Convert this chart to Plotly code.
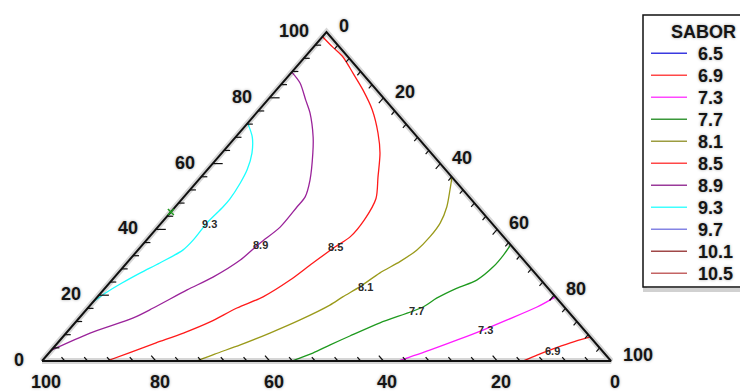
import numpy as np
import plotly.graph_objects as go

# ---------------- data (percent) ----------------
# T = top-vertex component (left axis), R = bottom-right component (right axis)
levels = ["6.5", "6.9", "7.3", "7.7", "8.1", "8.5", "8.9", "9.3", "9.7", "10.1", "10.5"]

c69_T = [7.3, 5.5, 3.3, 1.8, 0.0]
c69_R = [92.7, 90.1, 87.6, 86.1, 84.5]

c73_T = [19.5, 16.4, 12.5, 9.4, 6.4, 3.3, 0.0]
c73_R = [80.5, 78.8, 75.5, 72.8, 69.8, 66.5, 62.6]

c77_T = [35.3, 32.2, 28.7, 24.6, 22.1, 19.1, 16.5, 11.6, 7.6, 4.9, 2.4, 0.0]
c77_R = [64.7, 65.0, 65.0, 64.1, 61.8, 59.8, 58.8, 53.6, 50.3, 48.2, 46.4, 43.9]

c81_T = [55.9, 52.0, 46.9, 42.0, 37.8, 33.7, 30.2, 26.8, 22.6, 19.5, 17.0, 12.5, 8.5, 4.9, 2.1, 0.0]
c81_R = [44.1, 45.7, 47.7, 49.0, 49.3, 49.0, 47.8, 46.0, 44.6, 43.1, 42.1, 39.1, 35.8, 32.4, 29.3, 27.2]

c85_T = [98.5, 95.4, 92.4, 87.5, 82.4, 76.3, 69.3, 63.2, 55.9, 49.4, 42.9, 37.8, 34.7,
         29.8, 24.6, 19.5, 16.1, 11.9, 8.5, 5.5, 2.4, 0.0]
c85_R = [0.1, 3.4, 6.7, 10.9, 15.2, 19.9, 24.4, 27.8, 31.1, 34.0, 35.2, 35.3, 34.2,
         32.7, 31.3, 29.1, 26.2, 23.6, 20.6, 17.3, 14.0, 11.4]

c89_T = [87.8, 84.5, 79.3, 75.4, 68.1, 63.2, 55.0, 49.9, 46.8, 40.7, 35.9, 30.7, 25.5,
         21.6, 16.1, 13.1, 8.5, 3.3]
c89_R = [0.0, 3.1, 6.7, 9.4, 13.6, 16.0, 19.6, 21.3, 21.4, 21.5, 20.4, 19.5, 17.3,
         14.7, 11.5, 9.5, 4.2, 0.0]

c93_T = [72.3, 68.1, 63.2, 58.1, 54.1, 49.2, 46.8, 42.0, 36.8, 33.7, 29.8, 26.8, 23.7, 20.8, 18.0]
c93_R = [0.0, 2.9, 5.3, 7.0, 7.8, 8.4, 8.4, 8.0, 8.2, 7.9, 5.8, 3.9, 2.2, 0.9, 0.0]

contours = {
    "6.9": (c69_T, c69_R),
    "7.3": (c73_T, c73_R),
    "7.7": (c77_T, c77_R),
    "8.1": (c81_T, c81_R),
    "8.5": (c85_T, c85_R),
    "8.9": (c89_T, c89_R),
    "9.3": (c93_T, c93_R),
}

# contour label positions
label_text = ["9.3", "8.9", "8.5", "8.1", "7.7", "7.3", "6.9"]
label_T = [41.6, 35.3, 34.7, 22.6, 15.2, 9.4, 3.0]
label_R = [8.7, 20.7, 34.2, 45.5, 58.3, 73.2, 88.3]

# experimental point marker on left edge
point_T = [45.3]
point_R = [0.0]

tick_labels = [0, 20, 40, 60, 80, 100]
minor_step = 4

# ---------------- styles ----------------
plot_colors = {
    "6.5": "#2020ff", "6.9": "#ff1a1a", "7.3": "#ff1aff", "7.7": "#1f9a1f",
    "8.1": "#9a9a1a", "8.5": "#ff1a1a", "8.9": "#9a239a", "9.3": "#1affff",
    "9.7": "#7070f0", "10.1": "#a03c3c", "10.5": "#c05a5a",
}
legend_colors = {
    "6.5": "#3a3ae0", "6.9": "#ff4848", "7.3": "#ff48ff", "7.7": "#3a983a",
    "8.1": "#9c9c40", "8.5": "#ff4848", "8.9": "#9a3a9a", "9.3": "#40ffff",
    "9.7": "#8484e4", "10.1": "#a04848", "10.5": "#c46464",
}

W, H = 740, 391
# pixel geometry of the triangle
BLX, BASEY, SIDE, HEIGHT = 42.0, 361.0, 569.0, 329.0
sx = SIDE / 100.0
sy = HEIGHT / 100.0
xr = [-BLX / sx, (W - BLX) / sx]
yr = [-(H - BASEY) / sy, BASEY / sy]

FONT = "Liberation Sans, Arial, sans-serif"


def txy(T, R):
    T = np.asarray(T, float)
    R = np.asarray(R, float)
    return R + T / 2.0, T


fig = go.Figure()

# ---------------- contour lines ----------------
for lev in levels:
    if lev in contours:
        T, R = contours[lev]
        x, y = txy(T, R)
    else:
        x, y = [None], [None]
    fig.add_trace(go.Scatter(
        x=x, y=y, mode="lines", name=lev, showlegend=False,
        line=dict(color=plot_colors[lev], width=1.3, shape="spline", smoothing=0.8),
        hoverinfo="skip"))

# ---------------- triangle edges ----------------
ex, ey = txy([0, 0, 100, 0], [0, 100, 0, 0])
fig.add_trace(go.Scatter(x=ex, y=ey, mode="lines", showlegend=False, hoverinfo="skip",
                         line=dict(color="rgba(0,0,0,0.16)", width=6)))
fig.add_trace(go.Scatter(x=ex, y=ey, mode="lines", showlegend=False, hoverinfo="skip",
                         line=dict(color="#111111", width=2)))

# ---------------- ticks ----------------
tx, ty = [], []
for v in range(minor_step, 100, minor_step):
    major = v % 20 == 0
    # left edge (top component): horizontal ticks pointing right
    x0, y0 = txy(v, 0)
    L = (10.0 if major else 6.0) / sx
    tx += [float(x0), float(x0) + L, None]
    ty += [float(y0), float(y0), None]
    # bottom edge (bottom-left component): ticks parallel to right edge
    x0, y0 = txy(0, 100 - v)
    d = (7.0 if major else 5.0) / 4.35
    tx += [float(x0), float(x0) - d / 2, None]
    ty += [float(y0), float(y0) + d, None]
    # right edge (bottom-right component): ticks parallel to left edge
    x0, y0 = txy(100 - v, v)
    tx += [float(x0), float(x0) - d / 2, None]
    ty += [float(y0), float(y0) - d, None]
fig.add_trace(go.Scatter(x=tx, y=ty, mode="lines", showlegend=False, hoverinfo="skip",
                         line=dict(color="#111111", width=1.2)))

# point marker
px_, py_ = txy(point_T, point_R)
fig.add_trace(go.Scatter(x=px_, y=py_, mode="markers", showlegend=False, hoverinfo="skip",
                         marker=dict(symbol="x-thin", size=6, color="#1f9a1f",
                                     line=dict(color="#1f9a1f", width=1.5))))

annotations = []
shadow = "0px 0px 3px rgba(0,0,0,0.35)"
axis_font = dict(family=FONT, size=18, color="#151515", weight="bold", shadow=shadow)

for v in tick_labels:
    # left axis (top component)
    x0, y0 = txy(v, 0)
    annotations.append(dict(x=float(x0), y=float(y0), text=str(v), showarrow=False,
                            xanchor="right", yanchor="middle", xshift=-16, yshift=1,
                            font=axis_font))
    # bottom axis (bottom-left component)
    x0, y0 = txy(0, 100 - v)
    annotations.append(dict(x=float(x0), y=float(y0), text=str(v), showarrow=False,
                            xanchor="center", yanchor="middle", xshift=4, yshift=-21,
                            font=axis_font))
    # right axis (bottom-right component)
    x0, y0 = txy(100 - v, v)
    annotations.append(dict(x=float(x0), y=float(y0), text=str(v), showarrow=False,
                            xanchor="left", yanchor="middle", xshift=10, yshift=6,
                            font=axis_font))

# contour labels
lx, ly = txy(label_T, label_R)
for t, x0, y0 in zip(label_text, lx, ly):
    annotations.append(dict(x=float(x0), y=float(y0), text=t, showarrow=False,
                            xanchor="center", yanchor="middle",
                            font=dict(family=FONT, size=11, color="#2a2a2a", weight="bold")))

# ---------------- legend (drawn in paper coordinates) ----------------
def pxx(p):
    return p / W


def pyy(p):
    return 1 - p / H


shapes = []
leg_l, leg_t, leg_b = 643, 15, 287
shapes.append(dict(type="rect", xref="paper", yref="paper",
                   x0=pxx(leg_l + 2), x1=pxx(W + 20), y0=pyy(leg_b + 3), y1=pyy(leg_t + 2),
                   line=dict(color="rgba(0,0,0,0.18)", width=4), fillcolor="rgba(0,0,0,0)",
                   layer="above"))
shapes.append(dict(type="rect", xref="paper", yref="paper",
                   x0=pxx(leg_l), x1=pxx(W + 20), y0=pyy(leg_b), y1=pyy(leg_t),
                   line=dict(color="#111111", width=1.5), fillcolor="white", layer="above"))
annotations.append(dict(xref="paper", yref="paper", x=pxx(669), y=pyy(32), text="SABOR",
                        showarrow=False, xanchor="left", yanchor="middle",
                        font=dict(family=FONT, size=18, color="#151515", weight="bold",
                                  shadow=shadow)))
for i, lev in enumerate(levels):
    yc = 53.3 + 22.0 * i
    shapes.append(dict(type="line", xref="paper", yref="paper",
                       x0=pxx(651), x1=pxx(687), y0=pyy(yc), y1=pyy(yc),
                       line=dict(color=legend_colors[lev], width=1.6), layer="above"))
    annotations.append(dict(xref="paper", yref="paper", x=pxx(696), y=pyy(yc + 0.5), text=lev,
                            showarrow=False, xanchor="left", yanchor="middle",
                            font=dict(family=FONT, size=18, color="#151515", weight="bold",
                                      shadow=shadow)))

fig.update_layout(
    width=W, height=H,
    margin=dict(l=0, r=0, t=0, b=0, pad=0, autoexpand=False),
    paper_bgcolor="white", plot_bgcolor="white",
    xaxis=dict(range=xr, visible=False, fixedrange=True),
    yaxis=dict(range=yr, visible=False, fixedrange=True),
    showlegend=False,
    annotations=annotations,
    shapes=shapes,
)

fig.write_html(
    "out.html",
    config={"displayModeBar": False},
    post_script="document.body.style.margin='0';document.body.style.overflow='hidden';",
)
